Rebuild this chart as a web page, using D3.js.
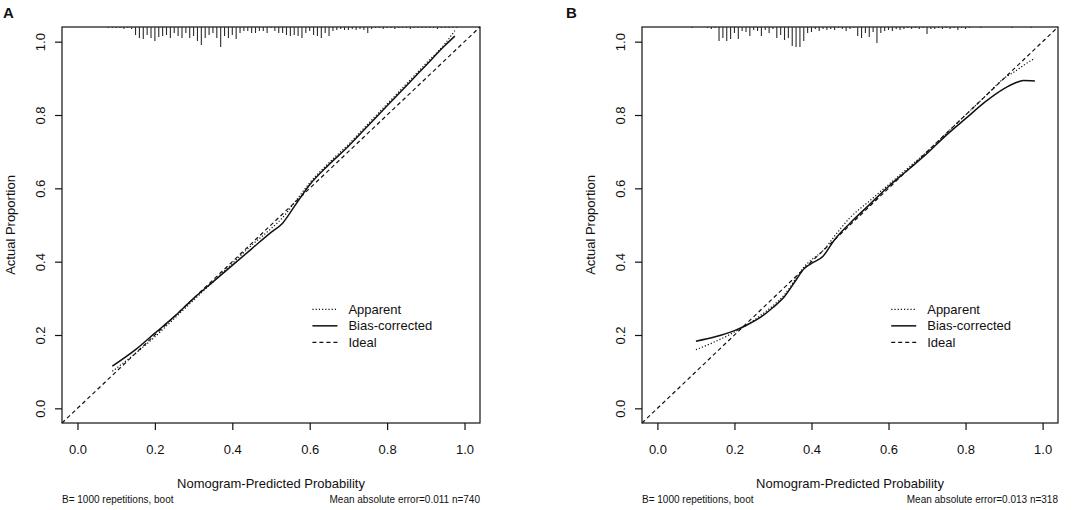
<!DOCTYPE html>
<html>
<head>
<meta charset="utf-8">
<script src="https://cdn.jsdelivr.net/npm/d3@7/dist/d3.min.js"></script>
<style>
	body { margin: 0; background: #fff; }
	svg { display: block; font-family: "Liberation Sans", Arial, sans-serif; }
</style>
</head>
<body>
<div id="chart"></div>
<script>
// Axis ticks shared by both panels
const tickValues = [0, 0.2, 0.4, 0.6, 0.8, 1.0];
const legendLabels = ["Apparent", "Bias-corrected", "Ideal"];

// Panel A: predicted probability, apparent and bias-corrected calibration
const predA = [0.09, 0.15, 0.20, 0.25, 0.30, 0.35, 0.40, 0.45, 0.50, 0.53, 0.56, 0.60, 0.65, 0.70, 0.75, 0.80, 0.85, 0.90, 0.95, 0.975];
const apparentA = [0.101, 0.15, 0.195, 0.245, 0.295, 0.345, 0.395, 0.445, 0.49, 0.52, 0.56, 0.615, 0.67, 0.72, 0.775, 0.83, 0.885, 0.94, 0.995, 1.03];
const biasA = [0.115, 0.16, 0.205, 0.25, 0.30, 0.345, 0.39, 0.435, 0.48, 0.505, 0.55, 0.61, 0.665, 0.715, 0.77, 0.825, 0.88, 0.935, 0.99, 1.015];

// Panel A rug: frequency of predictions per 0.01 bin, starting at 0.08
const rugStartA = 0.08;
const rugCountsA = [
	1, 1, 1, 1, 2, 1, 2,
	8, 11, 12, 8, 11, 14, 10, 9, 8, 11, 6, 9, 11, 6, 11, 9, 14, 18, 11, 8, 6, 11, 20, 9, 11, 8, 12, 6,
	4, 4, 6, 6, 4, 4, 6, 1, 4, 6, 6, 8, 9, 8, 9, 11, 6, 4, 8, 9, 11, 6, 9, 4,
	3, 2, 3, 3, 2, 3, 2, 3, 6,
	2, 1, 1, 2, 1, 1, 2, 1, 1, 1, 2, 1, 1, 1, 1, 1, 1, 2, 1, 1, 1, 1, 1
];

// Panel B
const predB = [0.10, 0.15, 0.20, 0.23, 0.27, 0.30, 0.33, 0.36, 0.38, 0.40, 0.43, 0.46, 0.50, 0.55, 0.60, 0.65, 0.70, 0.75, 0.80, 0.85, 0.90, 0.93, 0.95, 0.98];
const apparentB = [0.160, 0.182, 0.208, 0.226, 0.255, 0.28, 0.31, 0.355, 0.385, 0.405, 0.43, 0.47, 0.52, 0.565, 0.61, 0.655, 0.70, 0.75, 0.80, 0.85, 0.90, 0.92, 0.935, 0.955];
const biasB = [0.183, 0.195, 0.212, 0.226, 0.25, 0.275, 0.305, 0.35, 0.38, 0.395, 0.415, 0.46, 0.505, 0.555, 0.605, 0.65, 0.695, 0.745, 0.79, 0.835, 0.872, 0.888, 0.894, 0.893];

const rugStartB = 0.09;
const rugCountsB = [
	1, 0, 0, 0, 1, 2, 1,
	14, 11, 14, 12, 6, 12, 4, 5, 9, 3, 4, 9, 3, 6, 2,
	11, 8, 13, 11, 19, 20, 20, 14, 6, 5, 2, 4, 2, 3, 2, 3, 1, 2, 4, 2, 1,
	9, 11, 6, 10, 5, 16, 6, 4, 3, 4, 2, 3, 2, 1, 2, 1, 2, 1, 7, 2, 2, 1, 2, 1, 2, 1, 3, 1, 2, 1,
	0, 0, 1, 0, 0, 0, 0, 0, 0, 0, 1, 0, 0, 0, 0, 1
];

const W = 1084, H = 510;
const svg = d3.select("#chart").append("svg")
	.attr("width", W)
	.attr("height", H);

const ink = "#111";

const drawPanel = (cfg) => {
	const top = 27, bottom = 423;
	const x = d3.scaleLinear().domain([-0.04, 1.04]).range([cfg.left, cfg.right]);
	const y = d3.scaleLinear().domain([-0.04, 1.04]).range([bottom, top]);
	const g = svg.append("g");

	// panel letter
	g.append("text")
		.attr("x", cfg.letterX)
		.attr("y", 18)
		.attr("font-size", 15)
		.attr("font-weight", "bold")
		.attr("fill", ink)
		.text(cfg.letter);

	// box
	g.append("rect")
		.attr("x", cfg.left)
		.attr("y", top)
		.attr("width", cfg.right - cfg.left)
		.attr("height", bottom - top)
		.attr("fill", "none")
		.attr("stroke", ink)
		.attr("stroke-width", 1.2);

	// x axis
	const xAxis = g.append("g")
		.attr("transform", `translate(0,${bottom})`)
		.call(d3.axisBottom(x).tickValues(tickValues).tickSize(7).tickPadding(15).tickFormat(d3.format(".1f")));
	xAxis.select(".domain").remove();
	xAxis.selectAll("line").attr("stroke", ink).attr("stroke-width", 1.2);
	xAxis.selectAll("text").attr("font-size", 13).attr("fill", ink).style("font-family", "inherit");

	// y axis, labels rotated as in base R
	const yAxis = g.append("g")
		.attr("transform", `translate(${cfg.left},0)`)
		.call(d3.axisLeft(y).tickValues(tickValues).tickSize(7).tickFormat(d3.format(".1f")));
	yAxis.select(".domain").remove();
	yAxis.selectAll("line").attr("stroke", ink).attr("stroke-width", 1.2);
	yAxis.selectAll("text")
		.attr("transform", "rotate(-90)")
		.attr("x", 0)
		.attr("y", -17)
		.attr("dy", 0)
		.attr("font-size", 13)
		.attr("fill", ink)
		.style("text-anchor", "middle")
		.style("font-family", "inherit");

	// axis titles
	g.append("text")
		.attr("transform", `translate(${cfg.left - 47},${(top + bottom) / 2}) rotate(-90)`)
		.attr("text-anchor", "middle")
		.attr("font-size", 13)
		.attr("fill", ink)
		.text("Actual Proportion");

	g.append("text")
		.attr("x", (cfg.left + cfg.right) / 2)
		.attr("y", 488)
		.attr("text-anchor", "middle")
		.attr("font-size", 13)
		.attr("fill", ink)
		.text("Nomogram-Predicted Probability");

	// subtitles
	g.append("text")
		.attr("x", cfg.left)
		.attr("y", 503)
		.attr("font-size", 10)
		.attr("fill", ink)
		.text("B= 1000 repetitions, boot");

	g.append("text")
		.attr("x", cfg.right)
		.attr("y", 503)
		.attr("text-anchor", "end")
		.attr("font-size", 10)
		.attr("fill", ink)
		.text(cfg.error);

	// rug of predicted probabilities, spikes hanging from the top edge
	const rugLen = d3.scaleLinear().domain([0, 20]).range([0, 20]);
	const rug = cfg.rugCounts
		.map((c, i) => ({p: cfg.rugStart + i * 0.01, c}))
		.filter(d => d.c > 0);
	g.append("g").selectAll("line")
		.data(rug)
		.enter()
		.append("line")
		.attr("x1", d => x(d.p))
		.attr("x2", d => x(d.p))
		.attr("y1", top)
		.attr("y2", d => top + rugLen(d.c))
		.attr("stroke", "#2a2a2a")
		.attr("stroke-width", 1.1);

	// ideal diagonal, corner to corner
	const line = d3.line().x(d => x(d[0])).y(d => y(d[1]));
	const smooth = d3.line().x(d => x(d[0])).y(d => y(d[1])).curve(d3.curveMonotoneX);

	g.append("path")
		.attr("d", line([[x.domain()[0], y.domain()[0]], [x.domain()[1], y.domain()[1]]]))
		.attr("fill", "none")
		.attr("stroke", ink)
		.attr("stroke-width", 1.2)
		.attr("stroke-dasharray", "4,3");

	g.append("path")
		.attr("d", smooth(cfg.pred.map((p, i) => [p, cfg.apparent[i]])))
		.attr("fill", "none")
		.attr("stroke", ink)
		.attr("stroke-width", 1.2)
		.attr("stroke-dasharray", "1.2,2");

	g.append("path")
		.attr("d", smooth(cfg.pred.map((p, i) => [p, cfg.bias[i]])))
		.attr("fill", "none")
		.attr("stroke", ink)
		.attr("stroke-width", 1.5);

	// legend
	const legX = x(0.607), legY = y(0.27);
	const dashes = ["1.2,2", null, "4,3"];
	const leg = g.append("g").attr("transform", `translate(${legX},${legY})`);
	legendLabels.forEach((lab, i) => {
		leg.append("line")
			.attr("x1", 0).attr("x2", 25)
			.attr("y1", i * 16.5).attr("y2", i * 16.5)
			.attr("stroke", ink)
			.attr("stroke-width", i === 1 ? 1.5 : 1.2)
			.attr("stroke-dasharray", dashes[i]);
		leg.append("text")
			.attr("x", 36)
			.attr("y", i * 16.5)
			.attr("dy", "0.35em")
			.attr("font-size", 13)
			.attr("fill", ink)
			.text(lab);
	});
};

drawPanel({
	letter: "A", letterX: 3, left: 62, right: 480,
	pred: predA, apparent: apparentA, bias: biasA,
	rugStart: rugStartA, rugCounts: rugCountsA,
	error: "Mean absolute error=0.011 n=740"
});

drawPanel({
	letter: "B", letterX: 566, left: 642, right: 1058,
	pred: predB, apparent: apparentB, bias: biasB,
	rugStart: rugStartB, rugCounts: rugCountsB,
	error: "Mean absolute error=0.013 n=318"
});
</script>
</body>
</html>
